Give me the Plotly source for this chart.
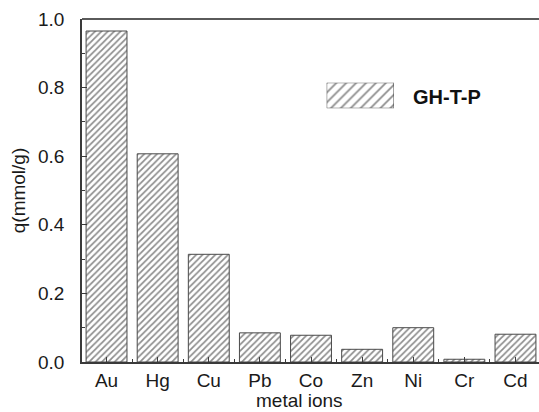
import plotly.graph_objects as go

# Adsorption capacity of GH-T-P for each metal ion
metals = ["Au", "Hg", "Cu", "Pb", "Co", "Zn", "Ni", "Cr", "Cd"]
q_values = [0.965, 0.607, 0.314, 0.085, 0.078, 0.037, 0.100, 0.008, 0.081]
series_name = "GH-T-P"
y_ticks = [0.0, 0.2, 0.4, 0.6, 0.8, 1.0]

FONT = "Liberation Sans, Arial, sans-serif"
AXIS_COLOR = "#3a3a3a"

fig = go.Figure()

fig.add_trace(go.Bar(
    x=list(range(len(metals))),
    y=q_values,
    width=0.8,
    name=series_name,
    showlegend=False,
    marker=dict(
        color="white",
        line=dict(color="#4a4a4a", width=1),
        pattern=dict(shape="/", fgcolor="#1a1a1a", bgcolor="white",
                     size=4.5, solidity=0.38),
    ),
))

# Legend key: a single hatched swatch on its own small axes
fig.add_trace(go.Bar(
    x=[0], y=[1], width=1, xaxis="x2", yaxis="y2", showlegend=False,
    hoverinfo="skip",
    marker=dict(
        color="white",
        line=dict(color="#4a4a4a", width=1),
        pattern=dict(shape="/", fgcolor="#1a1a1a", bgcolor="white",
                     size=7, solidity=0.25),
    ),
))

fig.update_layout(
    width=539, height=412,
    margin=dict(l=82, r=0, t=19, b=50),
    paper_bgcolor="white", plot_bgcolor="white",
    font=dict(family=FONT, size=19, color="#1a1a1a"),
    bargap=0.2,
    xaxis=dict(
        range=[-0.48, 8.46],
        tickmode="array",
        tickvals=list(range(len(metals))),
        ticktext=metals,
        ticks="inside", ticklen=5, tickwidth=1, tickcolor=AXIS_COLOR,
        minor=dict(tickmode="array", tickvals=[i + 0.5 for i in range(-1, len(metals))],
                   ticks="inside", ticklen=3, tickcolor=AXIS_COLOR),
        showline=True, linecolor=AXIS_COLOR, linewidth=1.5,
        mirror=False, showgrid=False, zeroline=False,
        ticklabelstandoff=0,
        tickfont=dict(size=19),
    ),
    yaxis=dict(
        range=[0, 1.0],
        tickmode="array",
        tickvals=y_ticks,
        ticktext=[f"{v:.1f}" for v in y_ticks],
        ticks="inside", ticklen=5, tickwidth=1, tickcolor=AXIS_COLOR,
        minor=dict(dtick=0.1, ticks="inside", ticklen=3, tickcolor=AXIS_COLOR),
        showline=True, linecolor=AXIS_COLOR, linewidth=1.5,
        showgrid=False, zeroline=False,
        ticklabelstandoff=12,
        tickfont=dict(size=19),
        title=dict(text="q(mmol/g)", font=dict(size=19), standoff=7),
    ),
    xaxis2=dict(domain=[0.5354, 0.6827], range=[-0.5, 0.5], anchor="y2",
                visible=False, fixedrange=True),
    yaxis2=dict(domain=[0.7397, 0.8143], range=[0, 1], anchor="x2",
                visible=False, fixedrange=True),
    shapes=[
        dict(type="line", xref="paper", yref="paper", x0=0, x1=1, y0=1, y1=1,
             line=dict(color="#5a5a5a", width=2)),
    ],
    annotations=[
        dict(text="<b>" + series_name + "</b>", xref="paper", yref="paper",
             x=0.719, y=0.7726, xanchor="left", yanchor="middle",
             showarrow=False, font=dict(size=20, color="#111111")),
        dict(text="metal ions", xref="paper", yref="paper",
             x=0.476, y=-0.1455, xanchor="center", yanchor="bottom",
             borderpad=0, showarrow=False, font=dict(size=19)),
    ],
)

fig.write_html("out.html")
